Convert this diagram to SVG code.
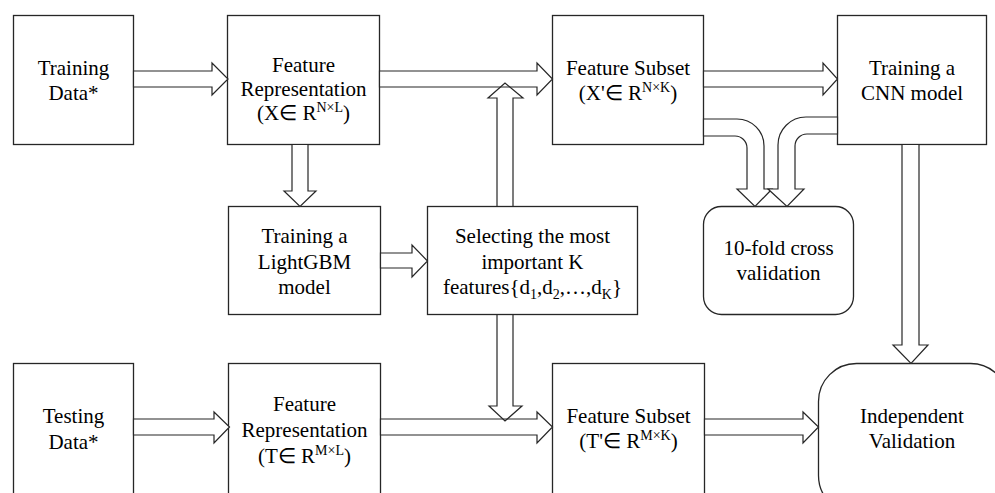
<svg xmlns="http://www.w3.org/2000/svg" width="995" height="493" viewBox="0 0 995 493">
<style>
.box{fill:#fff;stroke:#262626;stroke-width:1.3}
.arr{fill:#fff;stroke:#262626;stroke-width:1.2;stroke-linejoin:miter}
.arro{fill:none;stroke:#262626;stroke-width:1.2}
</style>
<rect width="995" height="493" fill="#fff"/>
<g id="training-data"><rect class="box" x="13.5" y="15.5" width="120" height="129"/><text font-family="Liberation Serif" font-size="21" text-anchor="middle" x="73.5" y="75">Training</text><text font-family="Liberation Serif" font-size="21" text-anchor="middle" x="73.5" y="100">Data*</text></g>
<g id="feature-rep-train"><rect class="box" x="227.5" y="15.5" width="152" height="129"/><text font-family="Liberation Serif" font-size="21" text-anchor="middle" x="303.5" y="72">Feature</text><text font-family="Liberation Serif" font-size="21" text-anchor="middle" x="303.5" y="96">Representation</text><text font-family="Liberation Serif" font-size="21" text-anchor="middle" x="303.5" y="120">(X∈ R<tspan font-size="14" dy="-8">N×L</tspan><tspan dy="8">)</tspan></text></g>
<g id="feature-subset-train"><rect class="box" x="552.5" y="15.5" width="151" height="129"/><text font-family="Liberation Serif" font-size="21" text-anchor="middle" x="628" y="75">Feature Subset</text><text font-family="Liberation Serif" font-size="21" text-anchor="middle" x="628" y="100">(X'∈ R<tspan font-size="14" dy="-8">N×K</tspan><tspan dy="8">)</tspan></text></g>
<g id="cnn"><rect class="box" x="837.5" y="15.5" width="149" height="129"/><text font-family="Liberation Serif" font-size="21" text-anchor="middle" x="912" y="75">Training a</text><text font-family="Liberation Serif" font-size="21" text-anchor="middle" x="912" y="100">CNN model</text></g>
<g id="lightgbm"><rect class="box" x="228.5" y="206.5" width="152" height="108"/><text font-family="Liberation Serif" font-size="21" text-anchor="middle" x="304.5" y="243">Training a</text><text font-family="Liberation Serif" font-size="21" text-anchor="middle" x="304.5" y="269">LightGBM</text><text font-family="Liberation Serif" font-size="21" text-anchor="middle" x="304.5" y="294">model</text></g>
<g id="selecting"><rect class="box" x="427.5" y="206.5" width="210" height="108"/><text font-family="Liberation Serif" font-size="21" text-anchor="middle" x="532.5" y="243">Selecting the most</text><text font-family="Liberation Serif" font-size="21" text-anchor="middle" x="532.5" y="269">important K</text><text font-family="Liberation Serif" font-size="21" text-anchor="middle" x="532.5" y="294">features{d<tspan font-size="14" dy="5">1</tspan><tspan dy="-5">,d</tspan><tspan font-size="14" dy="5">2</tspan><tspan dy="-5">,…,d</tspan><tspan font-size="14" dy="5">K</tspan><tspan dy="-5">}</tspan></text></g>
<g id="cross-validation"><rect class="box" x="703.5" y="206.5" width="150" height="108" rx="18"/><text font-family="Liberation Serif" font-size="21" text-anchor="middle" x="778.5" y="255">10-fold cross</text><text font-family="Liberation Serif" font-size="21" text-anchor="middle" x="778.5" y="280">validation</text></g>
<g id="testing-data"><rect class="box" x="13.5" y="363.5" width="120" height="140"/><text font-family="Liberation Serif" font-size="21" text-anchor="middle" x="73.5" y="423">Testing</text><text font-family="Liberation Serif" font-size="21" text-anchor="middle" x="73.5" y="449">Data*</text></g>
<g id="feature-rep-test"><rect class="box" x="228.5" y="363.5" width="152" height="140"/><text font-family="Liberation Serif" font-size="21" text-anchor="middle" x="304.5" y="411">Feature</text><text font-family="Liberation Serif" font-size="21" text-anchor="middle" x="304.5" y="437">Representation</text><text font-family="Liberation Serif" font-size="21" text-anchor="middle" x="304.5" y="463">(T∈ R<tspan font-size="14" dy="-8">M×L</tspan><tspan dy="8">)</tspan></text></g>
<g id="feature-subset-test"><rect class="box" x="552.5" y="363.5" width="152" height="140"/><text font-family="Liberation Serif" font-size="21" text-anchor="middle" x="628.5" y="423">Feature Subset</text><text font-family="Liberation Serif" font-size="21" text-anchor="middle" x="628.5" y="448">(T'∈ R<tspan font-size="14" dy="-8">M×K</tspan><tspan dy="8">)</tspan></text></g>
<g id="independent-validation"><rect class="box" x="818.5" y="363.5" width="190" height="150" rx="38"/><text font-family="Liberation Serif" font-size="21" text-anchor="middle" x="912" y="423">Independent</text><text font-family="Liberation Serif" font-size="21" text-anchor="middle" x="912" y="448">Validation</text></g>
<g id="connectors">
<polygon class="arr" points="133.5,71 212,71 212,63 228,79 212,95 212,87 133.5,87"/>
<polygon class="arr" points="379.5,71 537,71 537,63 552.5,79 537,95 537,87 379.5,87"/>
<polygon class="arr" points="703.5,71 823,71 823,63 837.5,79 823,95 823,87 703.5,87"/>
<polygon class="arro" points="497,206.5 497,98 488,98 505,83 523,98 513,98 513,206.5"/>
<polygon class="arr" points="292,144.5 292,191 284,191 300,206.5 316,191 308,191 308,144.5"/>
<polygon class="arr" points="380.5,253 412,253 412,245 427.5,261 412,277 412,268 380.5,268"/>
<polygon class="arr" points="902,144.5 902,345 893,345 911,363.5 928,345 919,345 919,144.5"/>
<path class="arr" d="M703.5,119 H737 A27,27 0 0 1 764,146 V189 H772 L755,206.5 L737,189 H747 V148 A12,12 0 0 0 735,136 H703.5 Z"/>
<path class="arr" d="M837.5,117 H806 A28,28 0 0 0 778,145 V189 H768 L787,206.5 L804,189 H795 V146 A12,12 0 0 1 807,134 H837.5 Z"/>
<polygon class="arr" points="133.5,419 214,419 214,412 229.5,427 214,443 214,435 133.5,435"/>
<polygon class="arr" points="380.5,419 537,419 537,412 552.5,427 537,443 537,435 380.5,435"/>
<polygon class="arro" points="497,314.5 497,406 489,406 505,421 522,406 513,406 513,314.5"/>
<polygon class="arr" points="704.5,419 803,419 803,412 818.5,427 803,443 803,435 704.5,435"/>
</g>
</svg>
